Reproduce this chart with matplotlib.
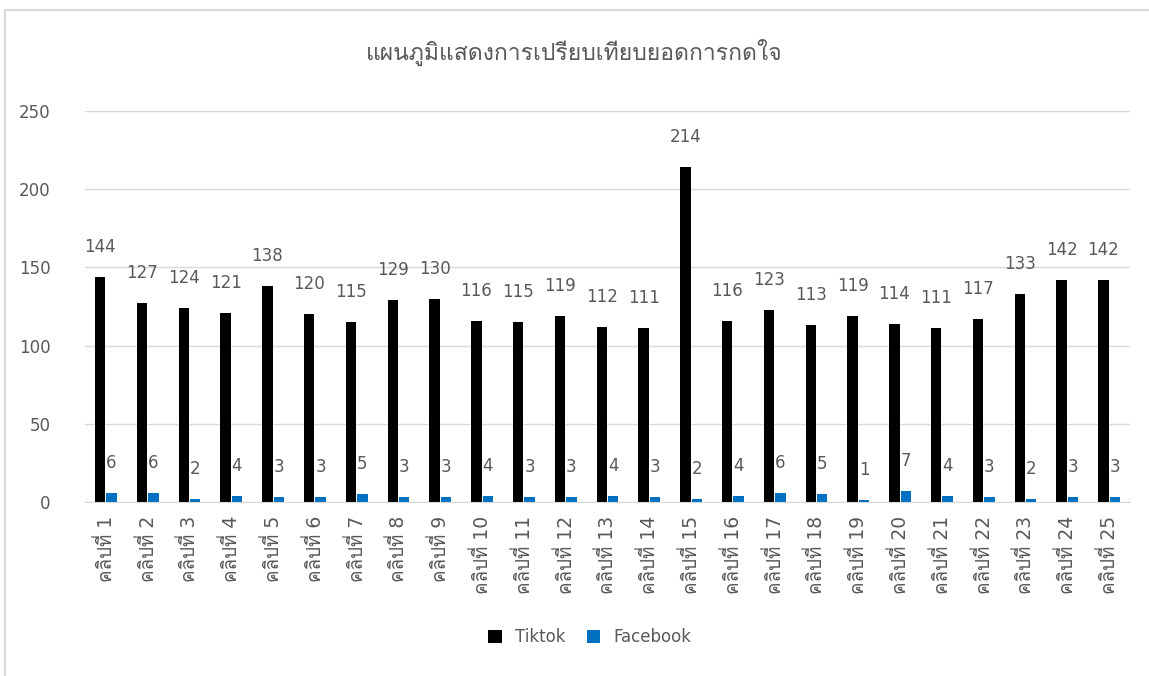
import matplotlib
matplotlib.use("Agg")
import matplotlib.pyplot as plt
import numpy as np
from matplotlib import font_manager
from matplotlib.ft2font import FT2Font
from matplotlib.patches import Rectangle

# Data
clips = ["คลิปที่ %d" % i for i in range(1, 26)]
tiktok = [144, 127, 124, 121, 138, 120, 115, 129, 130, 116, 115, 119, 112,
          111, 214, 116, 123, 113, 119, 114, 111, 117, 133, 142, 142]
facebook = [6, 6, 2, 4, 3, 3, 5, 3, 3, 4, 3, 3, 4, 3, 2, 4, 6, 5, 1, 7,
            4, 3, 2, 3, 3]
yticks = [0, 50, 100, 150, 200, 250]

# find a font that has Thai glyphs
fams = []
for f in font_manager.fontManager.ttflist:
    try:
        cm = FT2Font(f.fname).get_charmap()
    except Exception:
        continue
    if 0x0E04 in cm and f.name not in fams:
        fams.append(f.name)
plt.rcParams['font.family'] = ['DejaVu Sans'] + fams[:3]

grey = '#595959'
fig = plt.figure(figsize=(11.49, 6.76), dpi=100)
ax = fig.add_axes([85 / 1149, 1 - 502 / 676, 1045 / 1149, 391 / 676])

x = np.arange(len(clips))
w = 0.25
b1 = ax.bar(x - w / 2 - 0.01, tiktok, w, color='black', label='Tiktok')
b2 = ax.bar(x + w / 2 + 0.01, facebook, w, color='#0070c0', label='Facebook')

for bars, vals in [(b1, tiktok), (b2, facebook)]:
    for rect, v in zip(bars, vals):
        ax.annotate(str(v), (rect.get_x() + rect.get_width() / 2, v),
                    xytext=(0, 30), textcoords='offset pixels',
                    ha='center', va='center', fontsize=12, color=grey)

ax.set_ylim(0, 250)
ax.set_xlim(-0.5, len(clips) - 0.5)
ax.set_yticks(yticks)
ax.set_xticks(x)
ax.set_xticklabels(clips, rotation=90, fontsize=13.5)
ax.tick_params(length=0, colors=grey)
ax.tick_params(axis='y', pad=25, labelsize=12)
ax.tick_params(axis='x', pad=10)
ax.grid(axis='y', color='#d9d9d9', linewidth=1)
ax.set_axisbelow(True)
for s in ['top', 'right', 'left']:
    ax.spines[s].set_visible(False)
ax.spines['bottom'].set_color('#d9d9d9')

fig.text(0.5, 1 - 52 / 676, 'แผนภูมิแสดงการเปรียบเทียบยอดการกดใจ',
         ha='center', va='center', fontsize=16.5, color=grey)

fig.legend(loc='center', bbox_to_anchor=(590 / 1149, 1 - 637 / 676), ncol=2,
           frameon=False, fontsize=12, labelcolor=grey, handlelength=0.8,
           handleheight=0.8, columnspacing=1.3)

fig.patches.append(Rectangle((5 / 1149, -0.1), 1.2, 1.1 - 10 / 676,
                             transform=fig.transFigure, fill=False,
                             edgecolor='#d9d9d9', linewidth=1.5))

fig.savefig('out.png', dpi=100)
